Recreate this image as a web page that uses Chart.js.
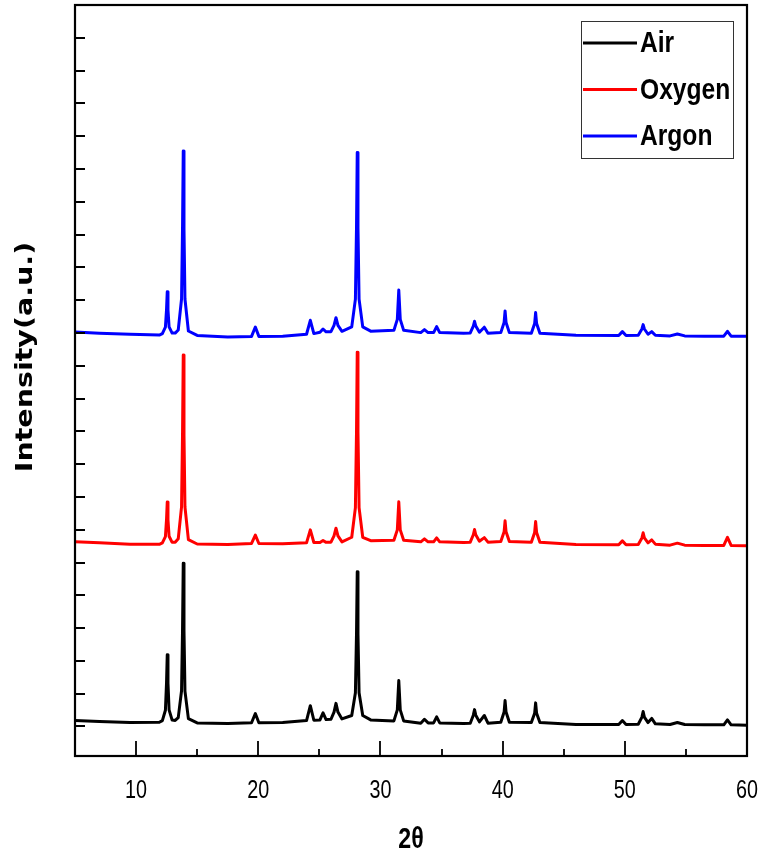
<!DOCTYPE html>
<html>
<head>
<meta charset="utf-8">
<script src="https://cdn.jsdelivr.net/npm/chart.js@4.4.1/dist/chart.umd.min.js"></script>
<style>
  html, body { margin: 0; padding: 0; background: #fff; }
  canvas { display: block; }
</style>
</head>
<body>
<canvas id="xrd-chart" width="761" height="865"></canvas>
<script>
// Angles (2θ, degrees) shared by all three patterns
const twoTheta = [
  5.0, 7.0, 9.5, 11.9, 12.15, 12.40, 12.49, 12.55, 12.61, 12.70,
  12.95, 13.20, 13.45, 13.72, 13.80, 13.86, 13.92, 14.00, 14.28, 15.0,
  17.5, 19.45, 19.76, 20.05, 22.0, 23.95, 24.26, 24.55, 25.05, 25.30,
  25.55, 25.95, 26.20, 26.36, 26.52, 26.85, 27.65, 27.95, 28.04, 28.10,
  28.16, 28.25, 28.55, 29.2, 31.1, 31.38, 31.50, 31.62, 31.90, 33.3,
  33.6, 33.9, 34.35, 34.60, 34.85, 36.8, 37.35, 37.60, 37.70, 37.80,
  38.10, 38.50, 38.80, 39.85, 40.12, 40.20, 40.28, 40.55, 42.35, 42.62,
  42.70, 42.78, 43.05, 46.0, 49.5, 49.8, 50.1, 51.1, 51.4, 51.5,
  51.6, 51.9, 52.2, 52.5, 53.7, 54.3, 54.9, 56.5, 58.1, 58.4,
  58.7, 60.0
];

// Intensities (a.u.) for each calcination atmosphere
const airCounts = [
  37, 30, 24, 26, 36, 99, 264, 438, 265, 101,
  39, 37, 54, 218, 585, 995, 585, 216, 48, 22,
  18, 23, 79, 23, 24, 36, 127, 38, 40, 83,
  42, 44, 88, 141, 88, 46, 67, 206, 566, 943,
  566, 206, 67, 40, 34, 101, 280, 101, 34, 20,
  44, 22, 22, 59, 22, 18, 20, 69, 103, 69,
  28, 67, 20, 26, 88, 158, 88, 26, 24, 80,
  144, 80, 24, 12, 12, 36, 12, 14, 57, 91,
  57, 24, 49, 16, 12, 24, 12, 10, 10, 40,
  10, 8
];

const oxygenCounts = [
  27, 20, 12, 11, 20, 58, 161, 269, 161, 60,
  23, 24, 45, 239, 679, 1165, 679, 239, 39, 13,
  10, 16, 67, 16, 14, 20, 99, 22, 22, 34,
  23, 24, 62, 109, 62, 26, 54, 235, 698, 1183,
  698, 235, 54, 33, 36, 99, 270, 99, 36, 26,
  44, 26, 26, 50, 26, 22, 24, 69, 101, 69,
  30, 52, 24, 28, 87, 154, 87, 28, 24, 83,
  150, 83, 24, 10, 8, 32, 8, 10, 50, 81,
  50, 20, 38, 12, 6, 18, 6, 4, 4, 53,
  4, 2
];

const argonCounts = [
  36, 28, 22, 17, 26, 65, 171, 281, 171, 67,
  29, 29, 48, 237, 666, 1139, 666, 237, 42, 15,
  6, 9, 66, 9, 10, 22, 107, 26, 34, 54,
  37, 38, 76, 123, 76, 40, 67, 236, 674, 1130,
  674, 236, 67, 41, 46, 113, 292, 113, 46, 32,
  50, 32, 32, 69, 32, 28, 30, 72, 101, 72,
  34, 65, 28, 32, 94, 164, 94, 32, 28, 87,
  154, 87, 28, 16, 14, 38, 14, 16, 54, 81,
  54, 22, 38, 16, 12, 24, 12, 10, 10, 40,
  10, 10
];

// Vertical stacking offsets (a.u.) and legend names
const seriesNames = ['Air', 'Oxygen', 'Argon'];
const seriesOffsets = [0, 1100, 2370];
const seriesColors = ['#000000', '#ff0000', '#0000ff'];

// axis ticks
const xTickLabels = [10, 20, 30, 40, 50, 60];
const xMinorTicks = [15, 25, 35, 45, 55];
const yTickStep = 200;

const allCounts = [airCounts, oxygenCounts, argonCounts];

const datasets = seriesNames.map((name, i) => ({
  label: name,
  data: twoTheta.map((t, k) => ({ x: t, y: allCounts[i][k] + seriesOffsets[i] })),
  borderColor: seriesColors[i],
  borderWidth: 3,
  borderJoinStyle: 'round',
  pointRadius: 0,
  tension: 0,
  fill: false
}));

// condensed text: regular font squeezed horizontally
function narrowText(c, text, x, y, font, squeeze, align) {
  c.save();
  c.font = font;
  c.translate(x, y);
  c.scale(squeeze, 1);
  c.textAlign = align || 'left';
  c.textBaseline = 'middle';
  c.fillText(text, 0, 0);
  c.restore();
}

// white background + frame + inward tick marks
const framePlugin = {
  id: 'frame',
  beforeDraw(chart) {
    const c = chart.ctx;
    c.save();
    c.fillStyle = '#fff';
    c.fillRect(0, 0, chart.width, chart.height);
    c.restore();
  },
  afterDatasetsDraw(chart) {
    const { ctx: c, chartArea: a, scales } = chart;
    const xs = scales.x, ys = scales.y;
    c.save();
    c.strokeStyle = '#000';
    c.lineWidth = 1.8;
    c.beginPath();
    // y ticks every step, pointing inwards
    for (let v = 0; v < ys.max; v += yTickStep) {
      const y = Math.round(ys.getPixelForValue(v));
      c.moveTo(a.left, y);
      c.lineTo(a.left + 10, y);
    }
    // x ticks: long at labelled values, short in between
    xTickLabels.concat(xMinorTicks).forEach(v => {
      if (v >= xs.max) return;
      const x = Math.round(xs.getPixelForValue(v));
      const len = xTickLabels.includes(v) ? 15 : 7;
      c.moveTo(x, a.bottom);
      c.lineTo(x, a.bottom - len);
    });
    c.stroke();
    c.lineWidth = 2.2;
    c.strokeRect(a.left, a.top, a.right - a.left, a.bottom - a.top);

    // x tick labels and axis title
    c.fillStyle = '#000';
    xTickLabels.forEach(v => {
      narrowText(c, String(v), xs.getPixelForValue(v), a.bottom + 35,
        '26px "Liberation Sans", Arial, sans-serif', 0.76, 'center');
    });
    narrowText(c, '2θ', (a.left + a.right) / 2, a.bottom + 84,
      'bold 29px "Liberation Sans", Arial, sans-serif', 0.8, 'center');
    c.restore();
  }
};

// boxed legend in the upper right corner
const legendPlugin = {
  id: 'boxLegend',
  afterDraw(chart) {
    const c = chart.ctx;
    const box = { x: 581, y: 21, w: 152, h: 137 };
    c.save();
    c.fillStyle = '#fff';
    c.fillRect(box.x, box.y, box.w, box.h);
    c.strokeStyle = '#333';
    c.lineWidth = 1;
    c.strokeRect(box.x + 0.5, box.y + 0.5, box.w, box.h);
    chart.data.datasets.forEach((ds, i) => {
      const y = box.y + 22 + i * 46.5;
      c.strokeStyle = ds.borderColor;
      c.lineWidth = 3;
      c.beginPath();
      c.moveTo(box.x + 2, y);
      c.lineTo(box.x + 56, y);
      c.stroke();
      c.fillStyle = '#000';
      narrowText(c, ds.label, box.x + 59, y + 1,
        'bold 30px "Liberation Sans", Arial, sans-serif', 0.82, 'left');
    });
    c.restore();
  }
};

// rotated y-axis title, drawn a little stretched along its length
const yTitlePlugin = {
  id: 'yTitle',
  afterDraw(chart) {
    const c = chart.ctx;
    c.save();
    c.translate(26, 357);
    c.rotate(-Math.PI / 2);
    c.scale(1.24, 1);
    c.font = 'bold 23px "DejaVu Sans", sans-serif';
    c.fillStyle = '#000';
    c.textAlign = 'center';
    c.textBaseline = 'middle';
    c.fillText('Intensity(a.u.)', 0, 0);
    c.restore();
  }
};

const ctx = document.getElementById('xrd-chart').getContext('2d');
const xrdChart = new Chart(ctx, {
  type: 'line',
  data: { datasets },
  options: {
    responsive: false,
    animation: false,
    layout: { padding: { left: 0, right: 14, top: 5, bottom: 0 } },
    plugins: {
      legend: { display: false },
      tooltip: { enabled: false }
    },
    scales: {
      x: {
        type: 'linear',
        min: 5,
        max: 60,
        grid: { display: false, drawTicks: false },
        border: { display: false },
        ticks: { display: false },
        afterFit: s => { s.height = 109; s.paddingLeft = 0; s.paddingRight = 0; }
      },
      y: {
        min: -180,
        max: 4400,
        grid: { display: false, drawTicks: false },
        border: { display: false },
        ticks: { display: false },
        afterFit: s => { s.width = 75; }
      }
    }
  },
  plugins: [framePlugin, legendPlugin, yTitlePlugin]
});
</script>
</body>
</html>
